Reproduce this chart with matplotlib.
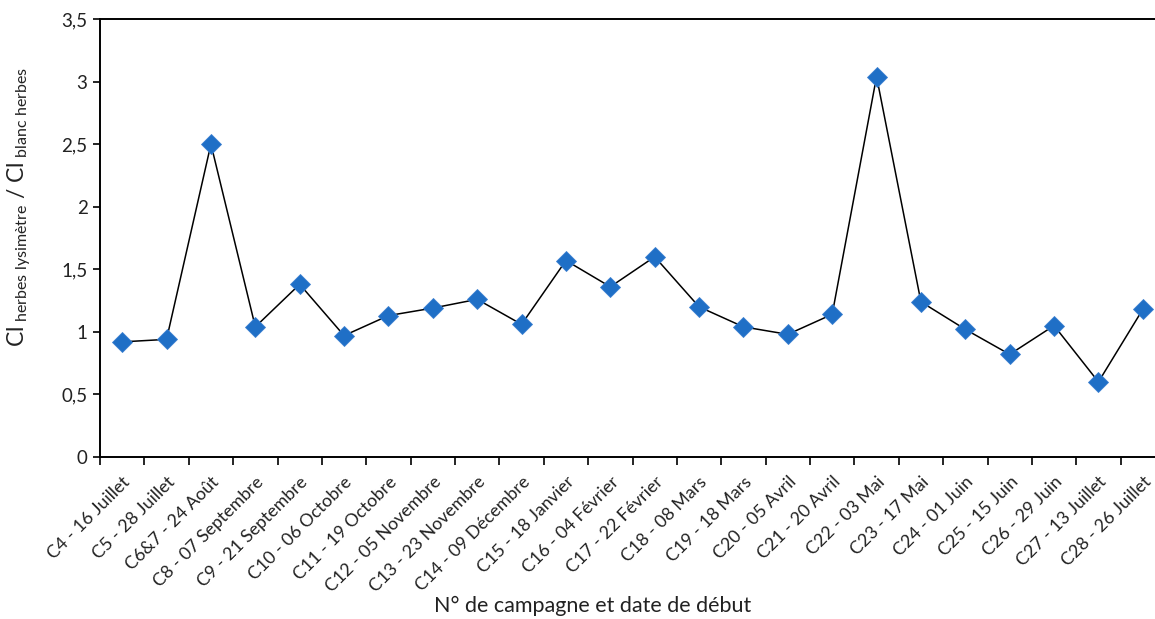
import matplotlib
matplotlib.use("Agg")
import matplotlib.pyplot as plt
from matplotlib.ticker import FixedLocator, FuncFormatter

categories = ["C4 - 16 Juillet", "C5 - 28 Juillet", "C6&7 - 24 Août", "C8 - 07 Septembre",
              "C9 - 21 Septembre", "C10 - 06 Octobre", "C11 - 19 Octobre", "C12 - 05 Novembre",
              "C13 - 23 Novembre", "C14 - 09 Décembre", "C15 - 18 Janvier", "C16 - 04 Février",
              "C17 - 22 Février", "C18 - 08 Mars", "C19 - 18 Mars", "C20 - 05 Avril",
              "C21 - 20 Avril", "C22 - 03 Mai", "C23 - 17 Mai", "C24 - 01 Juin",
              "C25 - 15 Juin", "C26 - 29 Juin", "C27 - 13 Juillet", "C28 - 26 Juillet"]
ratios = [0.92, 0.94, 2.50, 1.04, 1.38, 0.97, 1.13, 1.19, 1.26, 1.06, 1.57, 1.36,
          1.60, 1.20, 1.04, 0.98, 1.14, 3.04, 1.24, 1.02, 0.82, 1.05, 0.60, 1.18]
yticks = [0, 0.5, 1, 1.5, 2, 2.5, 3, 3.5]

plt.rcParams['font.family'] = ['Lato', 'DejaVu Sans']
plt.rcParams['mathtext.fontset'] = 'custom'
plt.rcParams['mathtext.rm'] = 'Lato'
plt.rcParams['mathtext.it'] = 'Lato'

W, H = 1155, 619
AX_L, AX_R, AX_T, AX_B = 100, 1165, 19, 457
fig = plt.figure(figsize=(W / 100, H / 100), dpi=100)
ax = fig.add_axes([AX_L / W, (H - AX_B) / H, (AX_R - AX_L) / W, (AX_B - AX_T) / H])

x = list(range(len(categories)))
ax.plot(x, ratios, color='black', lw=1.1, zorder=2)
ax.plot(x, ratios, ls='none', marker='D', ms=10, mfc='#1f6fc6', mec='#3a7fd0',
        mew=0.6, zorder=3, clip_on=False)

ax.set_xlim(-0.5, len(categories) - 0.5)
ax.set_ylim(0, 3.5)
ax.set_yticks(yticks)
ax.yaxis.set_major_formatter(FuncFormatter(lambda v, p: ('%g' % v).replace('.', ',')))

ax.xaxis.set_major_locator(FixedLocator([i - 0.5 for i in range(len(categories) + 1)]))
ax.xaxis.set_major_formatter(FuncFormatter(lambda v, p: ''))
ax.xaxis.set_minor_locator(FixedLocator(x))
ax.set_xticklabels(categories, minor=True, rotation=45, ha='right', rotation_mode='anchor',
                   fontsize=12.8, color='#222222')
ax.tick_params(axis='x', which='minor', length=0, pad=12)
ax.tick_params(axis='x', which='major', length=6, width=1.2, direction='out')
ax.tick_params(axis='y', length=5, width=1.2, direction='out', labelsize=13.5,
               labelcolor='#222222', pad=4)

for s in ['left', 'bottom', 'top']:
    ax.spines[s].set_linewidth(1.4)
ax.spines['right'].set_visible(False)

aw, ah = AX_R - AX_L, AX_B - AX_T
ax.set_xlabel('N° de campagne et date de début', fontsize=15.5, color='#222222')
ax.set_ylabel(r'Cl$_{\mathregular{\ herbes\ lysimètre}}$ / Cl$_{\mathregular{\ blanc\ herbes}}$',
              fontsize=16.5, color='#222222')
ax.xaxis.set_label_coords((593 - AX_L) / aw, -(596 - AX_B) / ah)
ax.yaxis.set_label_coords(-(AX_L - 33) / aw, (AX_B - 207) / ah)

fig.savefig('out.png', dpi=100)
